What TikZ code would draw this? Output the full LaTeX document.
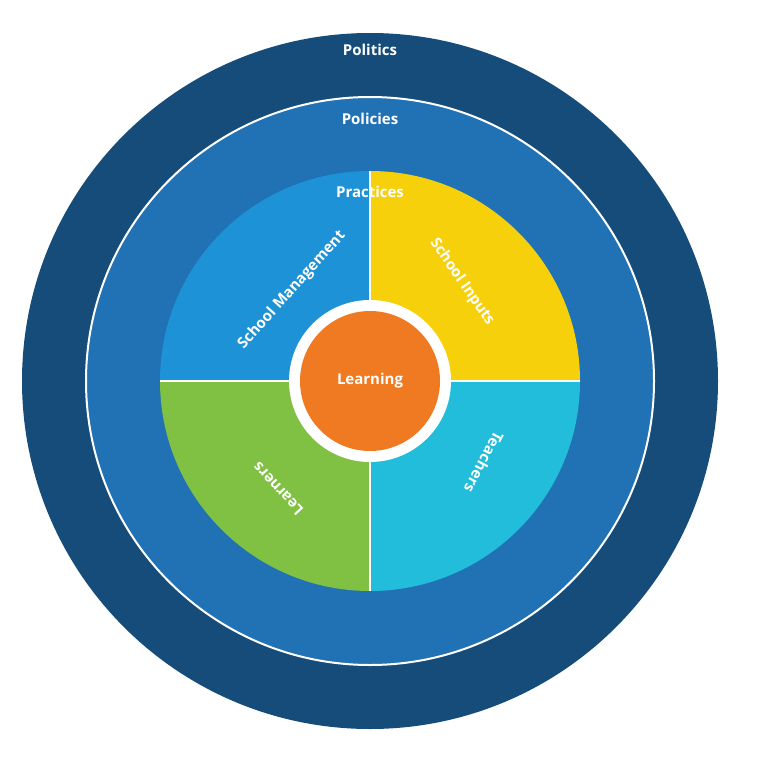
\documentclass[tikz,border=0pt]{standalone}
\usepackage{fontspec}
\setmainfont{Open Sans}
\definecolor{politicsblue}{HTML}{154C79}
\definecolor{policiesblue}{HTML}{2172B4}
\definecolor{mgmtblue}{HTML}{1E92D6}
\definecolor{inputsyellow}{HTML}{F7D00C}
\definecolor{teachcyan}{HTML}{22BDDA}
\definecolor{learngreen}{HTML}{80C043}
\definecolor{learnorange}{HTML}{F07A22}
\tikzset{
  lbl/.style={text=white, font=\bfseries\fontsize{15}{18}\selectfont},
  ring/.style={circle, draw=white, line width=2pt, inner sep=0pt}
}
\begin{document}
\begin{tikzpicture}[x=1pt, y=-1pt]
          \useasboundingbox (0,0) rectangle (768,768);
          \node[ring, fill=politicsblue, draw=none, minimum size=696] (politics) at (370,381) {};
          \node[ring, fill=policiesblue, minimum size=568] (policies) at (370,381) {};
          \coordinate (c) at (370,381);
          % quarters (y axis points down, so angles run clockwise)
          \fill[mgmtblue]     (c) -- ++(-210,0) arc[start angle=180, end angle=270, radius=210] -- cycle;
          \fill[inputsyellow] (c) -- ++(0,-210) arc[start angle=270, end angle=360, radius=210] -- cycle;
          \fill[teachcyan]    (c) -- ++(210,0)  arc[start angle=0,   end angle=90,  radius=210] -- cycle;
          \fill[learngreen]   (c) -- ++(0,210)  arc[start angle=90,  end angle=180, radius=210] -- cycle;
          \draw[white, line width=2pt] (c) ++(-210,0) -- ++(420,0);
          \draw[white, line width=2pt] (c) ++(0,-210) -- ++(0,420);
          \node[circle, fill=white, minimum size=162, inner sep=0pt] (hub) at (c) {};
          \node[circle, fill=learnorange, minimum size=140, inner sep=0pt] (learning) at (c) {};
          % labels
          \node[lbl] (lpolitics) at (370,50) {Politics};
          \node[lbl] (lpolicies) at (370,119) {Policies};
          \node[lbl] (lpractices) at (370,192) {Practices};
          \node[lbl] at (learning) {Learning};
          \node[lbl, rotate=48]   (lmgmt)   at (292,290) {School Management};
          \node[lbl, rotate=-55]  (linputs) at (462,282) {School Inputs};
          \node[lbl, rotate=-118] (lteach)  at (484,462) {Teachers};
          \node[lbl, rotate=133]  (llearn)  at (278,489) {Learners};
      \end{tikzpicture}
\end{document}
